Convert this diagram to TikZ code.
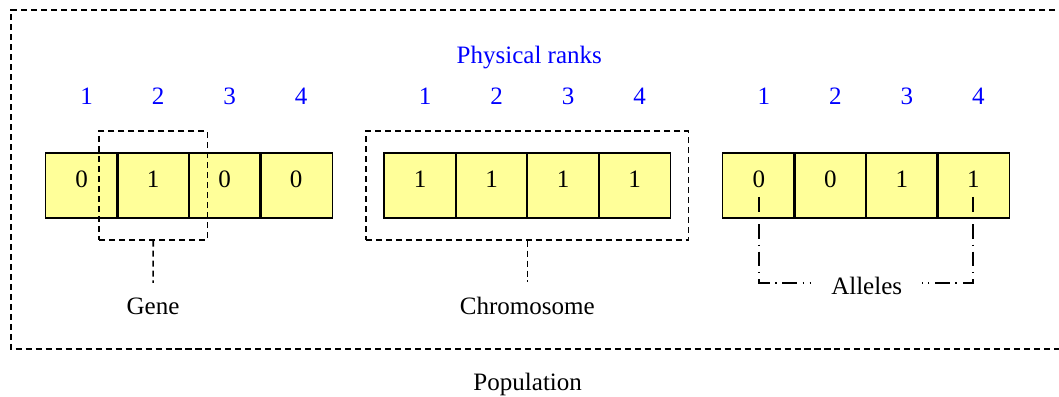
\documentclass[tikz,border=0pt]{standalone}
\usepackage{fontspec}
\setmainfont{Liberation Serif}
\usetikzlibrary{fit}

\definecolor{cellyellow}{RGB}{255,255,153}

\begin{document}
\begin{tikzpicture}[
x=0.025cm,
y=-0.025cm,
cell/.style={
fill=cellyellow,
minimum width=50.86pt,
minimum height=46.2pt,
inner sep=0pt,
text height=12pt,
text depth=9.2pt,
},
border/.style={
line width=1.1pt,
},
rank/.style={
text=blue,
},
group/.style={
draw,
line width=1.1pt,
dash pattern=on 4.3pt off 2.8pt,
inner xsep=12.8pt,
inner ysep=15.3pt,
},
stem/.style={
line width=1.1pt,
dash pattern=on 4.3pt off 2.8pt,
shorten >=7pt,
},
allele/.style={
line width=1.1pt,
dash pattern=on 10.5pt off 4pt on 1pt off 4pt,
},
font=\fontsize{17.8}{21}\selectfont,
]
\useasboundingbox (0,0) rectangle (1059,396);

% population frame, open to the right
\draw[line width=1.1pt, dash pattern=on 4.3pt off 2.8pt] (1075,10) -- (11,10) -- (11,349) -- (1075,349);

\node[rank] (ranks) at (529.3,57.8) {Physical ranks};

% three chromosomes of four genes
\foreach \c/\x/\vals in {a/46/{0,1,0,0}, b/384.3/{1,1,1,1}, c/723/{0,0,1,1}} {
  \foreach \v [count=\i] in \vals {
    \node[cell] (\c\i) at (\x+71.5*\i-35.75,185.5) {\v};
    \node[rank] (\c r\i) at (\x+71.5*\i-30.75,96) {\i};
  }
  % borders after the fills so no cell covers its neighbour's edge
  \foreach \i in {1,...,4}
    \draw[border] (\c\i.north west) rectangle (\c\i.south east);
}

\node[group, fit=(a2)] (gene) {};
\node[group, fit=(b1) (b4)] (chrom) {};

\node at (153,306) (genetext) {Gene};
\node at (527.3,306) (chromtext) {Chromosome};
\node[inner xsep=14pt] at (866.7,285.7) (alleles) {Alleles};
\node at (527.7,384) (pop) {Population};

\draw[stem] (gene.south) -- (genetext);
\draw[stem] (chrom.south) -- (chromtext);

\draw[allele] ([yshift=-8pt]c1.center) |- ([yshift=1.9pt]alleles.west);
\draw[allele] ([yshift=-8pt]c4.center) |- ([yshift=1.9pt]alleles.east);

\end{tikzpicture}
\end{document}
